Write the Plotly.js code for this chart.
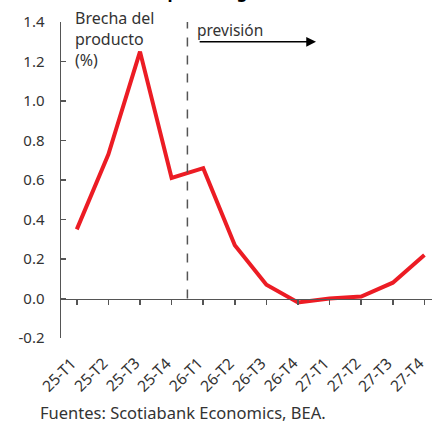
<!DOCTYPE html>
<html>
<head>
<meta charset="utf-8">
<script src="https://cdn.plot.ly/plotly-3.0.1.min.js"></script>
<style>
html,body{margin:0;padding:0;overflow:hidden;background:#fff;}
#chart{width:432px;height:421px;}
</style>
</head>
<body>
<div id="chart"></div>
<script>
const quarters = ["25-T1","25-T2","25-T3","25-T4","26-T1","26-T2","26-T3","26-T4","27-T1","27-T2","27-T3","27-T4"];
const outputGap = [0.35, 0.73, 1.25, 0.61, 0.66, 0.27, 0.07, -0.02, 0.00, 0.01, 0.08, 0.22];
const yTicks = [-0.2, 0.0, 0.2, 0.4, 0.6, 0.8, 1.0, 1.2, 1.4];
const yTickText = ["-0.2","0.0","0.2","0.4","0.6","0.8","1.0","1.2","1.4"];
const forecastStart = "26-T1";
const titleText = "EE.UU.: Se espera un giro en la brecha";
const gapLabel = "Brecha del<br>producto<br>(%)";
const forecastLabel = "previsión";
const sourceText = "Fuentes: Scotiabank Economics, BEA.";

const FONT = "Noto Sans, Open Sans, sans-serif";
const TXT = "#333333";
const AX = "#555555";
const fIdx = quarters.indexOf(forecastStart) - 0.5;
const idx = quarters.map((q,i)=>i);

const traces = [{
  type: "scatter",
  mode: "lines",
  x: idx,
  y: outputGap,
  line: {color: "#ec1c24", width: 4},
  hoverinfo: "skip",
  showlegend: false
},{
  type: "scatter",
  mode: "lines",
  x: [0],
  y: [null],
  xaxis: "x2",
  yaxis: "y",
  showlegend: false,
  hoverinfo: "skip"
}];

const tickAnnotations = quarters.map((q,i)=>({
  text: q,
  xref: "x", yref: "paper", x: i, y: 0,
  xanchor: "right", yanchor: "top",
  xshift: 6, yshift: -13,
  textangle: -45,
  showarrow: false,
  borderpad: 0,
  font: {size: 15.5, color: TXT, family: FONT}
}));

const layout = {
  width: 432, height: 421,
  margin: {l: 61, r: 0, t: 22, b: 83, pad: 0},
  paper_bgcolor: "#ffffff",
  plot_bgcolor: "#ffffff",
  font: {family: FONT, color: TXT, size: 15},
  showlegend: false,
  xaxis: {
    range: [-0.5, 11.24],
    tickmode: "array",
    tickvals: idx,
    showticklabels: false,
    ticks: "",
    showline: false,
    showgrid: false,
    zeroline: false,
    fixedrange: true
  },
  xaxis2: {
    overlaying: "x",
    matches: "x",
    anchor: "free",
    position: 0.125,
    side: "bottom",
    tickmode: "array",
    tickvals: idx,
    tickson: "boundaries",
    ticks: "outside",
    ticklen: 5,
    tickwidth: 1.5,
    tickcolor: AX,
    showticklabels: false,
    showline: true,
    linecolor: AX,
    linewidth: 1.5,
    showgrid: false,
    zeroline: false
  },
  yaxis: {
    range: [-0.2, 1.4],
    tickmode: "array",
    tickvals: yTicks,
    ticktext: yTickText,
    ticks: "inside",
    ticklen: 5,
    tickwidth: 1.5,
    tickcolor: AX,
    showline: true,
    linecolor: AX,
    linewidth: 1.5,
    showgrid: false,
    zeroline: false,
    ticklabelstandoff: 12,
    tickfont: {size: 15, color: TXT, family: FONT},
    fixedrange: true
  },
  shapes: [{
    type: "line", xref: "x", yref: "y",
    x0: fIdx, x1: fIdx, y0: 0, y1: 1.425,
    line: {color: AX, width: 1.5, dash: "dash"}
  }],
  annotations: [{
    text: "<b>" + titleText + "</b>",
    xref: "paper", yref: "paper", x: 0.0, y: 1.0,
    xanchor: "left", yanchor: "bottom",
    xshift: -1, yshift: 17,
    showarrow: false,
    font: {size: 17, color: "#000", family: FONT}
  },{
    text: gapLabel,
    xref: "paper", yref: "paper", x: 0, y: 1,
    xanchor: "left", yanchor: "top", align: "left",
    xshift: 12, yshift: 17,
    showarrow: false,
    font: {size: 16, color: TXT, family: FONT}
  },{
    text: forecastLabel,
    xref: "x", yref: "y", x: fIdx, y: 1.36,
    xanchor: "left", yanchor: "middle",
    xshift: 8,
    showarrow: false,
    font: {size: 15.5, color: TXT, family: FONT}
  },{
    text: "",
    xref: "x", yref: "y", x: 7.57, y: 1.30,
    ax: fIdx + 0.34, ay: 1.30, axref: "x", ayref: "y",
    showarrow: true, arrowhead: 2, arrowsize: 1.3, arrowwidth: 1.5,
    arrowcolor: "#000"
  },{
    text: sourceText,
    xref: "paper", yref: "paper", x: 0, y: 0,
    xanchor: "left", yanchor: "bottom",
    xshift: -22, yshift: -87,
    borderpad: 0,
    showarrow: false,
    font: {size: 16.5, color: TXT, family: FONT}
  }].concat(tickAnnotations)
};

Plotly.newPlot("chart", traces, layout, {staticPlot: true, displayModeBar: false});
</script>
</body>
</html>
